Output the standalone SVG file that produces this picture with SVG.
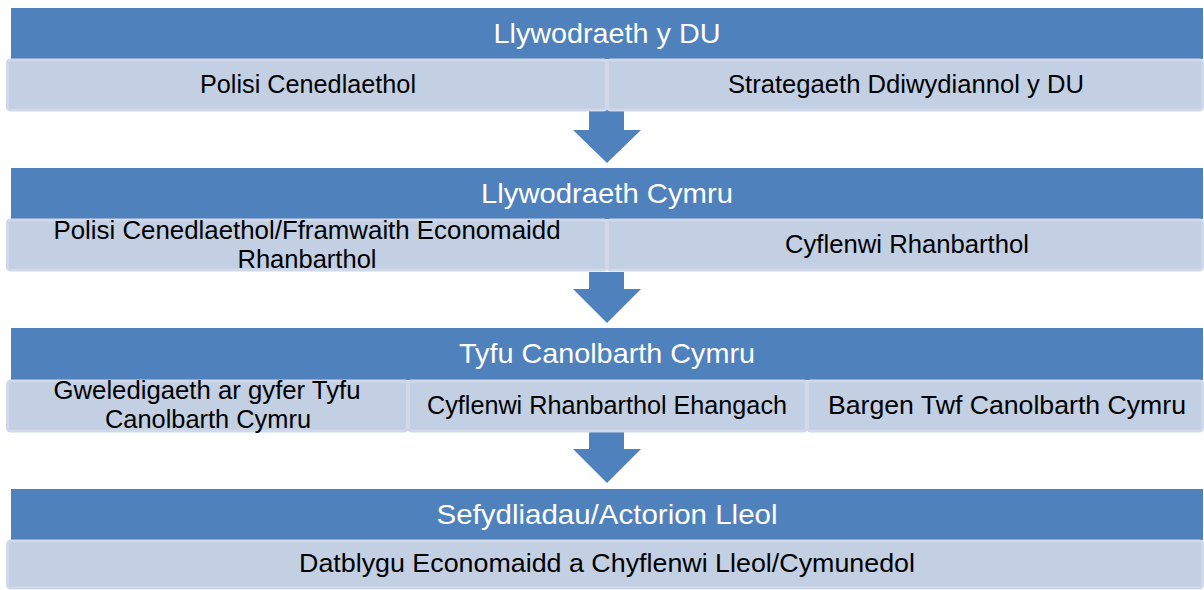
<svg xmlns="http://www.w3.org/2000/svg" width="1204" height="590" viewBox="0 0 1204 590">
<style>
.hdr{fill:#4F81BD;}
.cell{fill:#C3CFE2;stroke:#D0D8E9;stroke-width:3;}
.arr{fill:#4F81BD;}
.ht{font-family:"Liberation Sans",Arial,sans-serif;font-size:28px;fill:#FFFFFF;text-anchor:middle;}
.ct{font-family:"Liberation Sans",Arial,sans-serif;font-size:25px;fill:#000000;text-anchor:middle;}
</style>
<rect width="1204" height="590" fill="#FFFFFF"/>
<g id="connectors">
<polygon class="arr" points="589,110 624,110 624,130 641,130 607,163 573,130 589,130"/>
<polygon class="arr" points="589,272 624,272 624,289 641,289 607,323 573,289 589,289"/>
<polygon class="arr" points="589,432 624,432 624,449 641,449 607,483 573,449 589,449"/>
</g>
<g id="n1">
<rect class="hdr" x="11" y="8" width="1192" height="51"/>
<text class="ht" x="607" y="43" textLength="227" lengthAdjust="spacingAndGlyphs">Llywodraeth y DU</text>
</g>
<g id="n1a">
<rect class="cell" x="7.5" y="60" width="599" height="50" rx="3"/>
<text class="ct" x="308" y="93" textLength="216" lengthAdjust="spacingAndGlyphs">Polisi Cenedlaethol</text>
</g>
<g id="n1b">
<rect class="cell" x="607.5" y="60" width="595" height="50" rx="3"/>
<text class="ct" x="906" y="93" textLength="356" lengthAdjust="spacingAndGlyphs">Strategaeth Ddiwydiannol y DU</text>
</g>
<g id="n2">
<rect class="hdr" x="11" y="168" width="1192" height="51"/>
<text class="ht" x="607" y="203" textLength="252" lengthAdjust="spacingAndGlyphs">Llywodraeth Cymru</text>
</g>
<g id="n2a">
<rect class="cell" x="7.5" y="220" width="599" height="50" rx="3"/>
<text class="ct" x="307" y="239" textLength="507" lengthAdjust="spacingAndGlyphs">Polisi Cenedlaethol/Fframwaith Economaidd</text>
<text class="ct" x="307" y="268" textLength="139" lengthAdjust="spacingAndGlyphs">Rhanbarthol</text>
</g>
<g id="n2b">
<rect class="cell" x="607.5" y="220" width="595" height="50" rx="3"/>
<text class="ct" x="907" y="253" textLength="244" lengthAdjust="spacingAndGlyphs">Cyflenwi Rhanbarthol</text>
</g>
<g id="n3">
<rect class="hdr" x="11" y="328" width="1192" height="52"/>
<text class="ht" x="607" y="363" textLength="296" lengthAdjust="spacingAndGlyphs">Tyfu Canolbarth Cymru</text>
</g>
<g id="n3a">
<rect class="cell" x="7.5" y="381" width="400" height="50" rx="3"/>
<text class="ct" x="207" y="399" textLength="307" lengthAdjust="spacingAndGlyphs">Gweledigaeth ar gyfer Tyfu</text>
<text class="ct" x="208" y="428" textLength="206" lengthAdjust="spacingAndGlyphs">Canolbarth Cymru</text>
</g>
<g id="n3b">
<rect class="cell" x="408.5" y="381" width="398" height="50" rx="3"/>
<text class="ct" x="607" y="414" textLength="360" lengthAdjust="spacingAndGlyphs">Cyflenwi Rhanbarthol Ehangach</text>
</g>
<g id="n3c">
<rect class="cell" x="807.5" y="381" width="395" height="50" rx="3"/>
<text class="ct" x="1007" y="414" textLength="358" lengthAdjust="spacingAndGlyphs">Bargen Twf Canolbarth Cymru</text>
</g>
<g id="n4">
<rect class="hdr" x="11" y="489" width="1192" height="51"/>
<text class="ht" x="607" y="524" textLength="341" lengthAdjust="spacingAndGlyphs">Sefydliadau/Actorion Lleol</text>
</g>
<g id="n4a">
<rect class="cell" x="7.5" y="541" width="1195" height="47" rx="3"/>
<text class="ct" x="607" y="572" textLength="616" lengthAdjust="spacingAndGlyphs">Datblygu Economaidd a Chyflenwi Lleol/Cymunedol</text>
</g>
</svg>
